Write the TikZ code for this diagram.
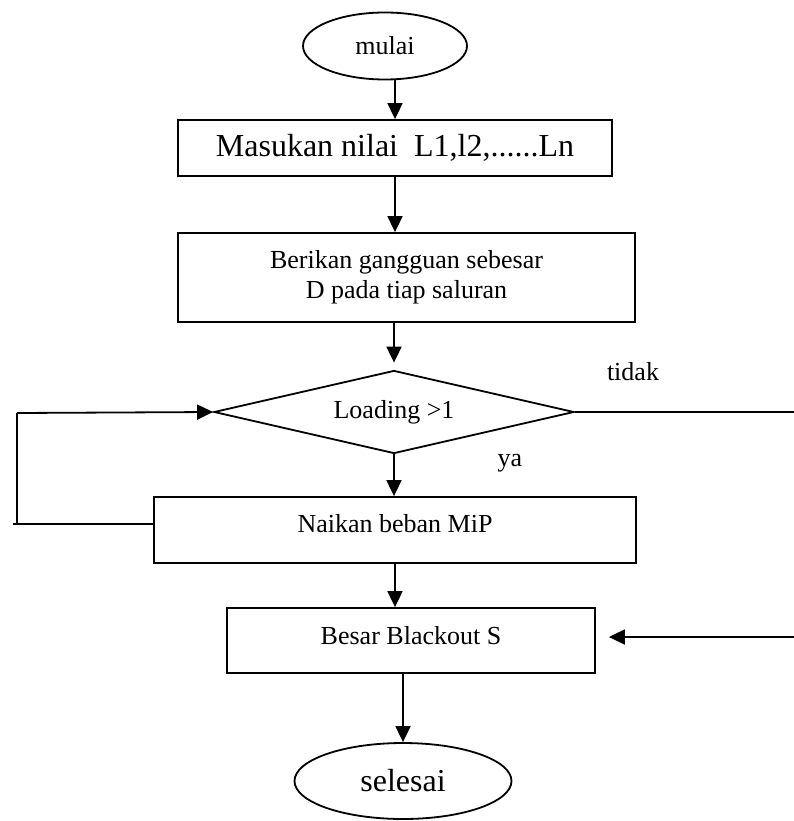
\documentclass[tikz,border=0pt]{standalone}
\usepackage{fontspec}
\setmainfont{Liberation Serif}
\usetikzlibrary{arrows.meta,%
                shapes.geometric}

\begin{document}
\begin{tikzpicture}[x=1pt,y=-1pt,line width=1.8pt]
  \tikzstyle{Proses}=[draw,rectangle,inner sep=0pt,align=center,font=\fontsize{26}{30}\selectfont]
  \tikzstyle{Terminal}=[draw,ellipse,inner sep=0pt]
  \tikzstyle{Kondisi}=[draw,diamond,inner sep=0pt,minimum width=360pt,minimum height=83pt,aspect=4.34,font=\fontsize{26}{30}\selectfont]
  \tikzstyle{Panah}=[-{Triangle[length=16pt,width=15pt]}]
  \tikzstyle{Ket}=[font=\fontsize{26}{30}\selectfont]
  \useasboundingbox (0,0) rectangle (794,821);
  \node[Terminal,minimum width=164pt,minimum height=67pt,font=\fontsize{26}{30}\selectfont] (mulai) at (385,46) {mulai};
  \node[Proses,minimum width=434pt,minimum height=56pt,font=\fontsize{32}{36}\selectfont] (masukan) at (395,148) {Masukan nilai\ \ L1,l2,......Ln};
  \node[Proses,minimum width=457pt,minimum height=89pt] (gangguan) at (406.5,277.5) {Berikan gangguan sebesar\\D pada tiap saluran};
  \node[Kondisi] (loading) at (394,412) {Loading >1};
  \node[Proses,minimum width=482pt,minimum height=66pt,text depth=14pt] (naik) at (395,530) {Naikan beban MiP};
  \node[Proses,minimum width=368pt,minimum height=65pt,text depth=10pt] (blackout) at (411,640.5) {Besar Blackout S};
  \node[Terminal,minimum width=217pt,minimum height=76pt,font=\fontsize{32}{36}\selectfont] (selesai) at (403,781) {selesai};
  \node[Ket] (tidak) at (633,372) {tidak};
  \node[Ket] (ya) at (510,463) {ya};
  \coordinate (tkanan) at (794,412);
  \coordinate (bkanan) at (794,637);
  \coordinate (kbawah) at (13,524);
  \coordinate (katas) at (17,413);
%  \draw (tkanan) -- (bkanan);
  \draw[Panah] (masukan.north |- mulai.south) -- (masukan.north);
  \draw[Panah] (masukan.south) -- (masukan.south |- gangguan.north);
  \draw[Panah,shorten >=7pt] (loading.north |- gangguan.south) -- (loading.north);
  \draw[Panah] (loading.south) -- (loading.south |- naik.north);
  \draw[Panah] (naik.south) -- (naik.south |- blackout.north);
  \draw[Panah] (selesai.north |- blackout.south) -- (selesai.north);
  \draw (loading.east) -- (tkanan);
  \draw[Panah,shorten >=13pt] (bkanan) -- (bkanan -| blackout.east);
  \draw (kbawah) -- (kbawah -| naik.west);
  \draw (katas) -- (katas |- kbawah);
  \draw[Panah] (katas) -- (loading.west);
\end{tikzpicture}
\end{document}
